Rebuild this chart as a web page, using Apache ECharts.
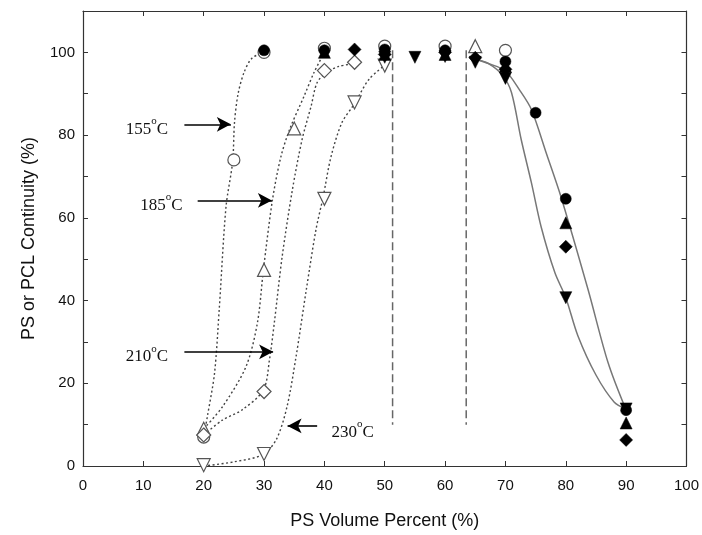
<!DOCTYPE html>
<html>
<head>
<meta charset="utf-8">
<script src="https://cdn.jsdelivr.net/npm/echarts@6/dist/echarts.min.js"></script>
<style>
  html, body { margin: 0; padding: 0; background: #fff; }
  #chart { width: 702px; height: 535px; }
</style>
</head>
<body>
<div id="chart"></div>
<script>
// PS continuity (open symbols)
const circleOpen = [[20, 7], [25, 74], [30, 100], [40, 101], [50, 101.5], [60, 101.5], [70, 100.5]];
const triUpOpen = [[20, 9], [30, 47.4], [35, 81.6], [65, 101.5]];
const diamondOpen = [[20, 7.5], [30, 18], [40, 95.6], [45, 97.6]];
const triDownOpen = [[20, 0.2], [30, 2.9], [40, 64.6], [45, 87.9], [50, 96.8]];
// PCL continuity (filled symbols)
const circleFilled = [[30, 100.5], [40, 100.5], [50, 100.7], [60, 100.5], [70, 97.8], [75, 85.4], [80, 64.6], [90, 13.5]];
const triUpFilled = [[40, 100], [50, 99.5], [60, 99.5], [70, 96.6], [80, 58.8], [90, 10.4]];
const diamondFilled = [[45, 100.7], [50, 99.5], [60, 100], [65, 98.7], [70, 95.9], [80, 53], [90, 6.3]];
const triDownFilled = [[50, 98.8], [55, 98.8], [60, 99], [65, 97.6], [70, 93.7], [80, 40.7], [90, 13.8]];

// fitted curves
const curve155 = [[20, 7], [20.6, 11.9], [21.8, 22.5], [22.6, 38.5], [23.7, 62.7], [24.8, 73.6], [25.1, 83], [25.7, 90], [26.7, 95.2], [28, 98.6], [30, 100]];
const curve185 = [[20, 9], [23.1, 14.3], [27, 24], [28.9, 34.6], [29.9, 47.5], [31.4, 64.4], [32.8, 74.8], [34.3, 81.6], [36.6, 89.3], [38.3, 95.2], [40, 100]];
const curve210 = [[20, 7.5], [23.1, 11.1], [26.4, 13.6], [29.9, 18.4], [30.9, 25.7], [31.7, 34.6], [33, 50.6], [34.7, 66.8], [36.3, 78.9], [37.8, 87], [38.8, 92.7], [40.4, 95.2], [42.4, 96.6], [45, 97.3]];
const curve230 = [[20, 0], [25, 1], [29.7, 2.7], [32, 6.3], [33.8, 14.3], [35.3, 26.4], [37, 42.6], [38.6, 57.1], [39.8, 65.1], [41.1, 74.8], [42.9, 83], [44.9, 87.4], [47.4, 93.5], [50.2, 97.1]];
const curvePclHigh = [[65, 98.4], [67.2, 97.3], [70, 95.5], [72.3, 91], [74.3, 86.2], [76.8, 75.5], [79.2, 65.1], [83.7, 42.6], [87, 25], [90, 13.5]];
const curvePclLow = [[65, 98.4], [67.2, 97.3], [69.5, 94.5], [71, 90.3], [72.6, 79], [74.3, 68.5], [75.9, 57.9], [78.2, 46.7], [80, 40.7], [82, 31.5], [85, 22], [88, 15.5], [90, 13.8]];
const boundLeft = [[51.3, 100.5], [51.3, 10]];
const boundRight = [[63.5, 100.5], [63.5, 10]];

// annotations
const tempLabels = ["155", "185", "210", "230"];
const labelPos = [[10.6, 82], [13, 63.6], [10.6, 27], [44.7, 8.7]];
const arrows = [
  [[16.8, 82.6], [24.5, 82.6]],
  [[19.0, 64.2], [31.3, 64.2]],
  [[16.8, 27.6], [31.5, 27.6]],
  [[38.8, 9.7], [33.9, 9.7]]
];

const chart = echarts.init(document.getElementById("chart"));

const openStyle = { color: "#fff", borderColor: "#555", borderWidth: 1.2, opacity: 1 };
const filledStyle = { color: "#000", borderColor: "#000", borderWidth: 0.5, opacity: 1 };
const sansFont = "'Liberation Sans Narrow', 'Liberation Sans', Arial, sans-serif";
const serifFont = "'Liberation Serif', 'DejaVu Serif', serif";

function curve(data, dotted) {
  return {
    type: "line",
    data: data,
    smooth: 0.3,
    showSymbol: false,
    silent: true,
    z: 1,
    lineStyle: dotted
      ? { color: "#444", width: 1.4, type: [2, 2.5] }
      : { color: "#777", width: 1.5 }
  };
}

function dots(data, symbol, size, style, rotate) {
  return {
    type: "scatter",
    data: data,
    symbol: symbol,
    symbolSize: size,
    symbolRotate: rotate || 0,
    itemStyle: style,
    z: 3
  };
}

const labelSeries = {
  type: "scatter",
  data: labelPos.map((p, i) => ({ value: p, name: tempLabels[i] })),
  symbolSize: 0,
  silent: true,
  z: 4,
  itemStyle: { opacity: 1 },
  label: {
    show: true,
    position: "inside",
    formatter: (p) => "{a|" + p.name + "}{s|o}{a|C}",
    rich: {
      a: { fontFamily: serifFont, fontSize: 17, color: "#111", lineHeight: 22, verticalAlign: "bottom" },
      s: { fontFamily: serifFont, fontSize: 11, color: "#111", lineHeight: 12, verticalAlign: "top" }
    }
  },
  markLine: {
    silent: true,
    symbol: ["none", "arrow"],
    symbolSize: [11, 14],
    label: { show: false },
    lineStyle: { color: "#000", width: 1.6, type: "solid", opacity: 1 },
    data: arrows.map((a) => [{ coord: a[0] }, { coord: a[1] }])
  }
};

const frameLine = { show: true, onZero: false, lineStyle: { color: "#333", width: 1.2 } };
const inTick = { show: true, inside: true, length: 5, lineStyle: { color: "#333" } };

const option = {
  animation: false,
  backgroundColor: "#fff",
  grid: { left: 83, right: 13, top: 11, bottom: 69 },
  xAxis: [
    {
      type: "value",
      min: 0,
      max: 100,
      interval: 10,
      name: "PS Volume Percent (%)",
      nameLocation: "middle",
      nameGap: 46,
      nameTextStyle: { fontFamily: sansFont, fontSize: 18, color: "#111" },
      axisLine: frameLine,
      axisTick: inTick,
      axisLabel: { fontFamily: sansFont, fontSize: 15, color: "#111", margin: 12 },
      splitLine: { show: false }
    },
    {
      type: "value",
      position: "top",
      min: 0,
      max: 100,
      interval: 10,
      axisLine: frameLine,
      axisTick: inTick,
      axisLabel: { show: false },
      splitLine: { show: false }
    }
  ],
  yAxis: [
    {
      type: "value",
      min: 0,
      max: 110,
      interval: 10,
      name: "PS or PCL Continuity (%)",
      nameLocation: "middle",
      nameGap: 45,
      nameTextStyle: { fontFamily: sansFont, fontSize: 18, color: "#111" },
      axisLine: frameLine,
      axisTick: inTick,
      axisLabel: {
        fontFamily: sansFont,
        fontSize: 15,
        color: "#111",
        margin: 8,
        formatter: (v) => (v % 20 === 0 && v <= 100 ? String(v) : "")
      },
      splitLine: { show: false }
    },
    {
      type: "value",
      position: "right",
      min: 0,
      max: 110,
      interval: 10,
      axisLine: frameLine,
      axisTick: inTick,
      axisLabel: { show: false },
      splitLine: { show: false }
    }
  ],
  series: [
    curve(curve155, true),
    curve(curve185, true),
    curve(curve210, true),
    curve(curve230, true),
    curve(curvePclHigh, false),
    curve(curvePclLow, false),
    {
      type: "line",
      data: boundLeft,
      showSymbol: false,
      silent: true,
      lineStyle: { color: "#666", width: 1.5, type: [8, 4] }
    },
    {
      type: "line",
      data: boundRight,
      showSymbol: false,
      silent: true,
      lineStyle: { color: "#666", width: 1.5, type: [8, 4] }
    },
    dots(circleOpen, "circle", 12, openStyle),
    dots(triUpOpen, "triangle", 13, openStyle),
    dots(diamondOpen, "diamond", 14, openStyle),
    dots(triDownOpen, "triangle", 13, openStyle, 180),
    dots(circleFilled, "circle", 11, filledStyle),
    dots(triUpFilled, "triangle", 12, filledStyle),
    dots(diamondFilled, "diamond", 13, filledStyle),
    dots(triDownFilled, "triangle", 12, filledStyle, 180),
    labelSeries
  ]
};

chart.setOption(option);
</script>
</body>
</html>
